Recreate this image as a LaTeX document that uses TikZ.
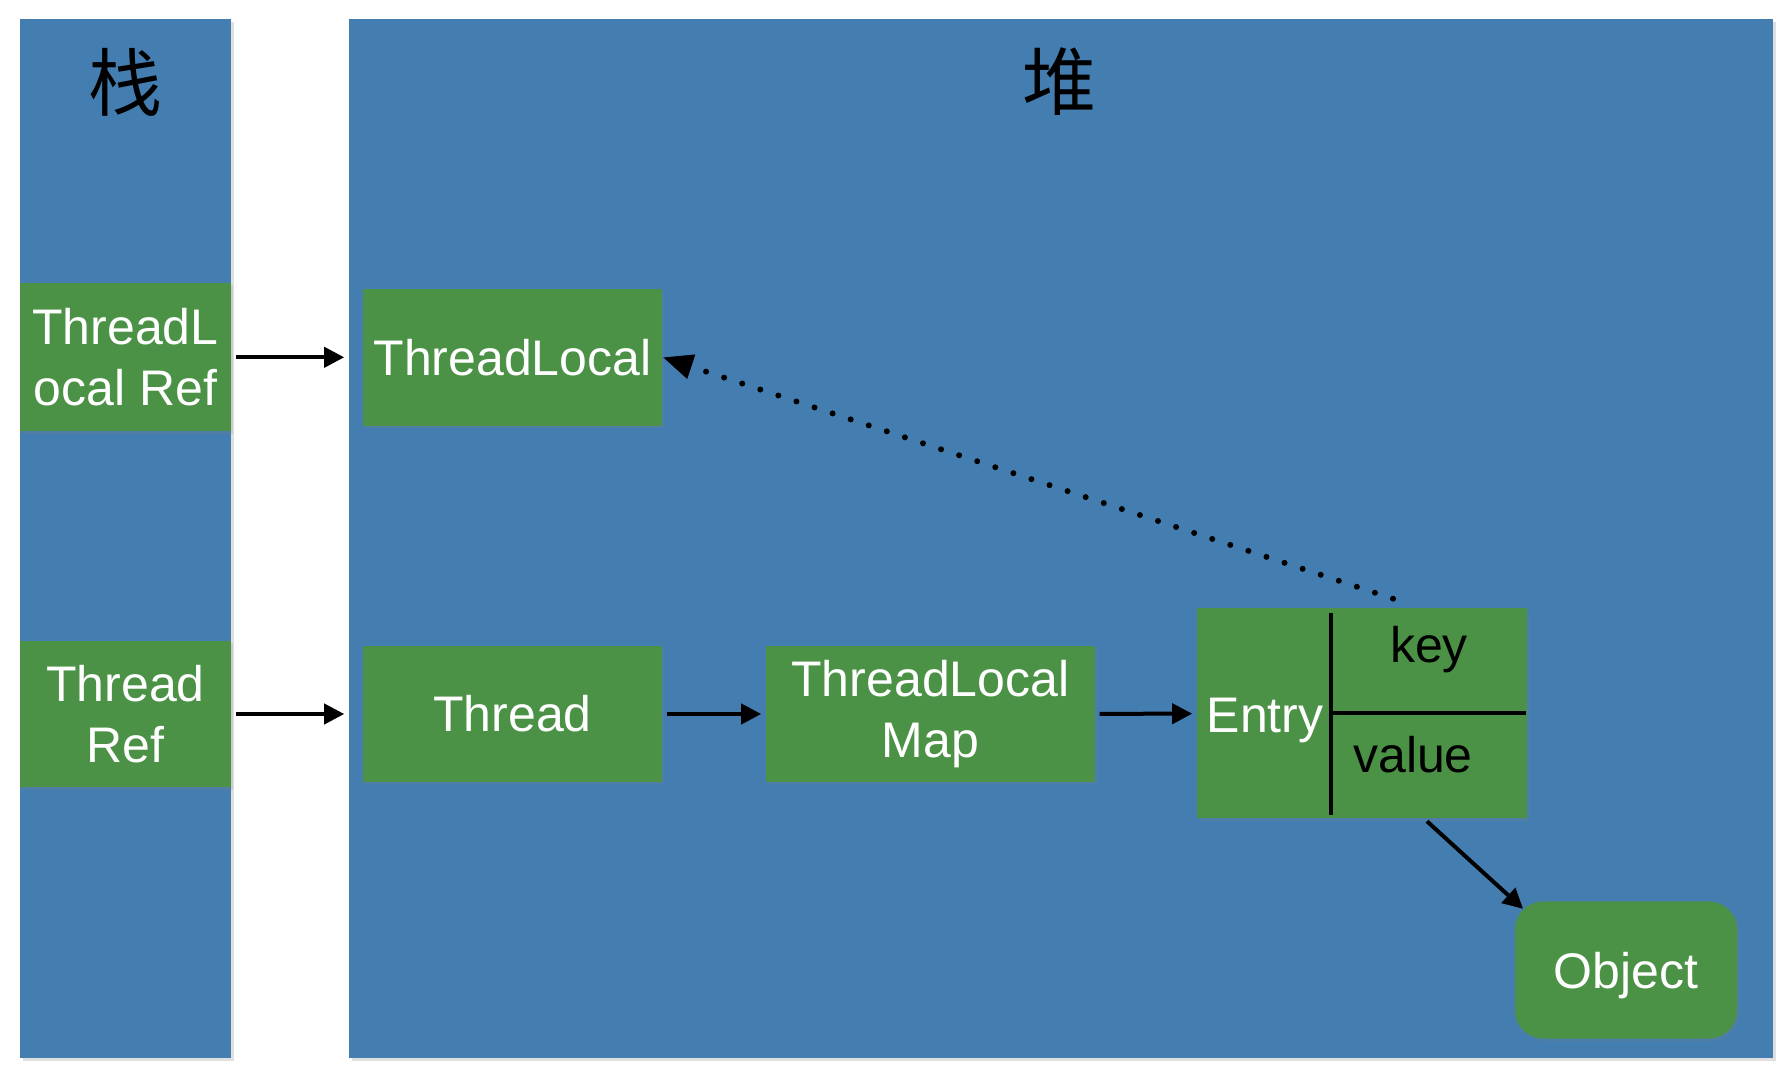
\documentclass[tikz,border=0pt]{standalone}
\usepackage{fontspec}
\setmainfont{Liberation Sans}
\newfontfamily\cjk{Noto Sans CJK SC}
\usepackage{tikz}
\usetikzlibrary{calc}
\usetikzlibrary{arrows.meta}
\usetikzlibrary{shadows}
\definecolor{paperblue}{RGB}{68,126,176}
\definecolor{cellgreen}{RGB}{76,146,70}
\tikzset{
  paper/.style={fill=paperblue, drop shadow={opacity=0.25, shadow xshift=0.7pt, shadow yshift=-0.7pt}},
  cellnode/.style={fill=cellgreen, text=white, inner sep=0pt, align=center,
    font=\fontsize{12.5}{15.1}\selectfont,
    drop shadow={opacity=0.2, shadow xshift=0.6pt, shadow yshift=-0.6pt}},
  celltext/.style={text=white, inner sep=0pt, font=\fontsize{12.5}{15.1}\selectfont},
  divider/.style={line width=1pt},
  ptr/.style={-{Triangle[length=5pt,width=5pt]}, line width=1pt},
  weakptr/.style={-{Triangle[length=7.5pt,width=6pt]}, line width=1.5pt, line cap=round,
    dash pattern=on 0pt off 4.76pt}
}
\newcommand{\panel}[4]{ \fill[paper] ( #1 , #2 ) rectangle ( #3 , #4 );}
\newcommand{\panelname}[4]{\node[font=\cjk\fontsize{18.5}{20}\selectfont] (#1) at ( #2 , #3 ) {#4};}

\begin{document}
\begin{tikzpicture}[x=0.25pt, y=-0.25pt]
\useasboundingbox (0,0) rectangle (1790,1068);
% stack and heap
\panel{20}{19}{231}{1058}
\panel{349}{19}{1773}{1058}
\panelname{stack}{125.5}{82}{栈}
\panelname{heap}{1059}{82}{堆}
% stack cells
\node[cellnode, minimum width=52.75pt, minimum height=37.1pt] (tlref) at (125.5,357.3) {ThreadL\\ocal Ref};
\node[cellnode, minimum width=52.75pt, minimum height=36.7pt] (thref) at (125.5,714) {Thread\\Ref};
% heap cells
\node[cellnode, minimum width=74.75pt, minimum height=34.25pt] (tl) at (512.5,357.3) {ThreadLocal};
\node[cellnode, minimum width=74.75pt, minimum height=34pt] (th) at (512.5,714) {Thread};
\node[cellnode, minimum width=82.2pt, minimum height=34pt] (tlmap) at (930.4,714) {ThreadLocal\\Map};
\node[cellnode, minimum width=82.5pt, minimum height=52.5pt] (entry) at (1362,713.5) {};
\node[cellnode, rounded corners=7pt, minimum width=55.5pt, minimum height=34.25pt, text height=11.6pt] (object) at (1626,970) {Object};
% entry fields
\draw[divider] ($(entry.north west)+(134.5,5)$) -- ($(entry.south west)+(134.5,-4)$);
\draw[divider] ($(entry.west)+(134.5,0)$) -- ($(entry.east)+(-2,0)$);
\node[celltext] (entrylbl) at (1265,720) {Entry};
\node[celltext, text=black] (keylbl) at (1429,650) {key};
\node[celltext, text=black] (valuelbl) at (1413,755) {value};
% references
\draw[ptr, shorten <=1pt, shorten >=4.5pt] (tlref) -- (tl);
\draw[ptr, shorten <=1pt, shorten >=4.5pt] (thref) -- (th);
\draw[ptr, shorten <=1pt, shorten >=1pt] (th) -- (tlmap);
\draw[ptr, shorten <=1pt, shorten >=1pt] (tlmap) -- (entry);
\coordinate (valout) at ($(entry.south)+(65,2)$);
\draw[ptr, shorten >=-3pt] (valout) -- (object.north west);
\coordinate (keyout) at ($(entry.north)+(31,-9)$);
\draw[weakptr] (keyout) -- (tl.east);
\end{tikzpicture}
\end{document}
